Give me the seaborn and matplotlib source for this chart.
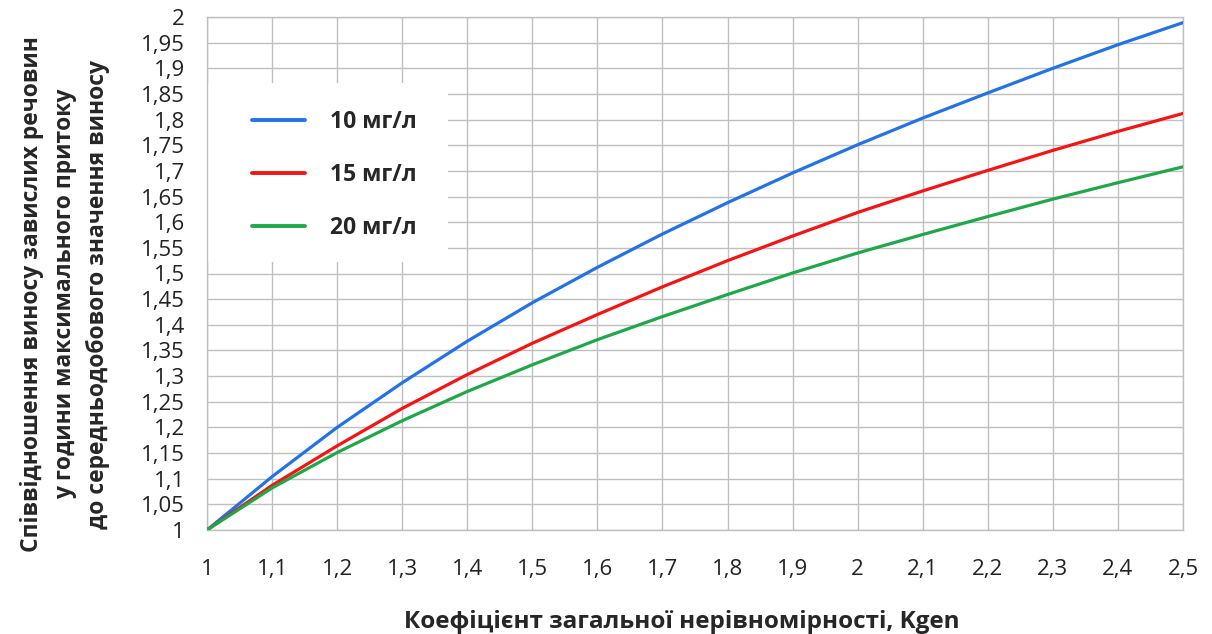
import pandas as pd
import numpy as np
import seaborn as sns
import matplotlib.pyplot as plt
from matplotlib.ticker import FixedLocator
from matplotlib.patches import Rectangle

# %%
kgen = [1.0, 1.1, 1.2, 1.3, 1.4, 1.5, 1.6, 1.7, 1.8, 1.9, 2.0, 2.1, 2.2, 2.3, 2.4, 2.5]
c10 = [1.0, 1.104, 1.200, 1.287, 1.368, 1.443, 1.512, 1.577, 1.638, 1.696, 1.751, 1.803, 1.852, 1.900, 1.946, 1.989]
c15 = [1.0, 1.087, 1.164, 1.237, 1.303, 1.364, 1.420, 1.474, 1.525, 1.573, 1.619, 1.661, 1.701, 1.740, 1.777, 1.812]
c20 = [1.0, 1.082, 1.151, 1.213, 1.270, 1.322, 1.371, 1.416, 1.459, 1.501, 1.540, 1.576, 1.611, 1.645, 1.677, 1.708]
series_names = ["10 мг/л", "15 мг/л", "20 мг/л"]
colors = ["#2372E8", "#F51414", "#1FA84A"]

x_ticks = [1.0, 1.1, 1.2, 1.3, 1.4, 1.5, 1.6, 1.7, 1.8, 1.9, 2.0, 2.1, 2.2, 2.3, 2.4, 2.5]
x_labels = ["1", "1,1", "1,2", "1,3", "1,4", "1,5", "1,6", "1,7", "1,8", "1,9", "2", "2,1", "2,2", "2,3", "2,4", "2,5"]
y_ticks = [1.0, 1.05, 1.1, 1.15, 1.2, 1.25, 1.3, 1.35, 1.4, 1.45, 1.5, 1.55, 1.6, 1.65, 1.7, 1.75, 1.8, 1.85, 1.9, 1.95, 2.0]
y_labels = ["1", "1,05", "1,1", "1,15", "1,2", "1,25", "1,3", "1,35", "1,4", "1,45", "1,5", "1,55", "1,6", "1,65",
            "1,7", "1,75", "1,8", "1,85", "1,9", "1,95", "2"]

# %%
df = pd.DataFrame({
    "kgen": kgen * 3,
    "ratio": c10 + c15 + c20,
    "series": [series_names[0]] * len(kgen) + [series_names[1]] * len(kgen) + [series_names[2]] * len(kgen),
})

sns.set_style("white")
plt.rcParams["font.family"] = ["Open Sans", "DejaVu Sans"]

fig = plt.figure(figsize=(12.12, 6.34), dpi=100)
ax = fig.add_axes([207 / 1212, 1 - 530 / 634, 976 / 1212, 513 / 634])

sns.lineplot(data=df, x="kgen", y="ratio", hue="series", palette=colors, linewidth=2.3, ax=ax, zorder=3)

ax.set_xlim(1.0, 2.5)
ax.set_ylim(1.0, 2.0)
ax.xaxis.set_major_locator(FixedLocator(x_ticks))
ax.yaxis.set_major_locator(FixedLocator(y_ticks))
ax.set_xticklabels(x_labels, fontsize=16, color="#222222")
ax.set_yticklabels(y_labels, fontsize=16, color="#222222")
ax.tick_params(axis="x", pad=14)
ax.grid(True, color="#BFBFBF", linewidth=1)
ax.set_axisbelow(True)
ax.tick_params(axis="both", direction="out", length=7, width=1, color="#BFBFBF")
ax.tick_params(axis="y", pad=9)
for s in ax.spines.values():
    s.set_color("#BFBFBF")
    s.set_linewidth(1)

ax.set_xlabel("Коефіцієнт загальної нерівномірності, Kgen", fontsize=17.5, fontweight="bold")
ax.xaxis.set_label_coords(0.487, -0.155)
ax.set_ylabel("Співвідношення виносу завислих речовин\nу години максимального притоку\nдо середньодобового значення виносу",
              fontsize=16.5, fontweight="bold", linespacing=1.5)
ax.yaxis.set_label_coords(-0.099, 0.46)

# white box behind the legend, hides the grid like in the original
ax.add_patch(Rectangle((0.001, 0.522), 0.246, 0.349, transform=ax.transAxes,
                       facecolor="white", edgecolor="none", zorder=1.5))
leg = ax.legend(loc="upper left", bbox_to_anchor=(0.046, 0.818), frameon=False, title=None,
                prop={"weight": "bold", "size": 16.5}, handlelength=2.3, handletextpad=1.1,
                labelspacing=1.25, borderpad=0, borderaxespad=0)
for line in leg.get_lines():
    line.set_linewidth(2.8)

fig.savefig("out.png", dpi=100)
